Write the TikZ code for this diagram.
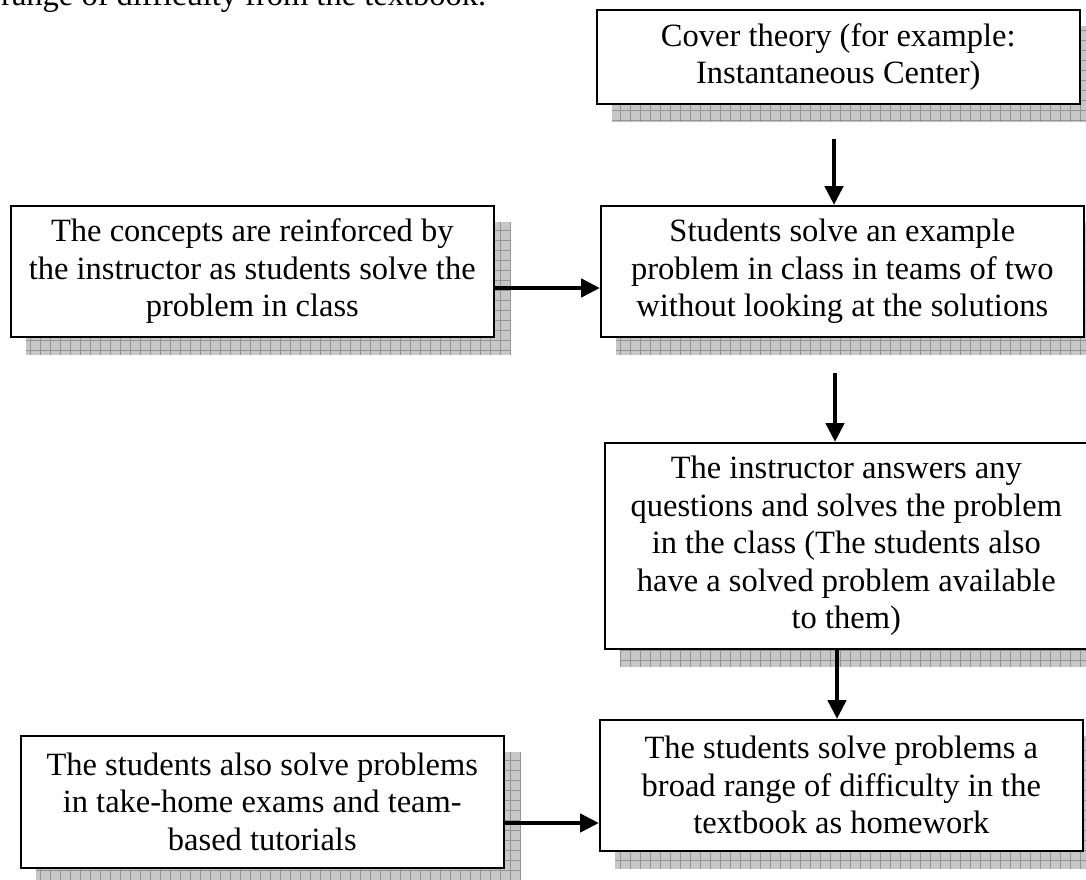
\documentclass[tikz,border=0pt]{standalone}
\usepackage{fontspec}
\setmainfont{Liberation Serif}
\usetikzlibrary{arrows.meta}
\pgfdeclarelayer{background}
\pgfsetlayers{background,main}
\tikzset{
  flowbox/.style={draw=black, line width=1.6pt, fill=white, align=center,
    inner sep=0pt, anchor=north west, minimum width=483pt,
    font=\fontsize{32.5}{37.5}\selectfont},
  plaintext/.style={inner sep=0pt, font=\fontsize{32.5}{37.5}\selectfont},
  flowarrow/.style={line width=4.6pt, -{Triangle[length=19pt,width=18pt]}},
  shadefill/.style={fill=black!22},
  shadegrid/.style={draw=black!42, line width=0.7pt},
}
\newcommand{\flowshade}[1]{%
  \fill[shadefill] ([shift={(16pt,-17pt)}]#1.north west) rectangle ([shift={(16pt,-17pt)}]#1.south east);
  \draw[shadegrid] ([shift={(16pt,-17pt)}]#1.north west) grid[step=10pt] ([shift={(16pt,-17pt)}]#1.south east);
}
\begin{document}
\begin{tikzpicture}[x=1pt,y=-1pt]
  \useasboundingbox (0,0) rectangle (1086,880);
  \clip (0,0) rectangle (1086,880);

  \node[plaintext, anchor=base west] (toptext) at (1,6) {range of difficulty from the textbook.};

  \node[flowbox, minimum height=94pt] (cover) at (596,9)
    {Cover theory (for example:\\Instantaneous Center)};
  \node[flowbox, minimum height=131pt] (solve) at (600,205)
    {Students solve an example\\problem in class in teams of two\\without looking at the solutions};
  \node[flowbox, minimum height=131pt] (concepts) at (10,205)
    {The concepts are reinforced by\\the instructor as students solve the\\problem in class};
  \node[flowbox, minimum height=206pt] (instructor) at (604,442)
    {The instructor answers any\\questions and solves the problem\\in the class (The students also\\have a solved problem available\\to them)};
  \node[flowbox, minimum height=131pt] (homework) at (599,719)
    {The students solve problems a\\broad range of difficulty in the\\textbook as homework};
  \node[flowbox, minimum height=132pt] (exams) at (20,735)
    {The students also solve problems\\in take-home exams and team-\\based tutorials};

  \begin{pgfonlayer}{background}
    \fill[white] (0,0) rectangle (1086,880);
    \flowshade{cover}
    \flowshade{solve}
    \flowshade{concepts}
    \flowshade{instructor}
    \flowshade{homework}
    \flowshade{exams}
  \end{pgfonlayer}

  \coordinate (a1) at (834,139);
  \coordinate (b1) at (835,373);
  \coordinate (c1) at (837,500);
  \coordinate (h1) at (0,288);
  \coordinate (h2) at (0,823);

  \draw[flowarrow] (a1) -- (a1 |- solve.north);
  \draw[flowarrow] (b1) -- (b1 |- instructor.north);
  \draw[flowarrow] (c1 |- instructor.south) -- (c1 |- homework.north);
  \draw[flowarrow] (concepts.east |- h1) -- (solve.west |- h1);
  \draw[flowarrow] (exams.east |- h2) -- (homework.west |- h2);
\end{tikzpicture}
\end{document}
